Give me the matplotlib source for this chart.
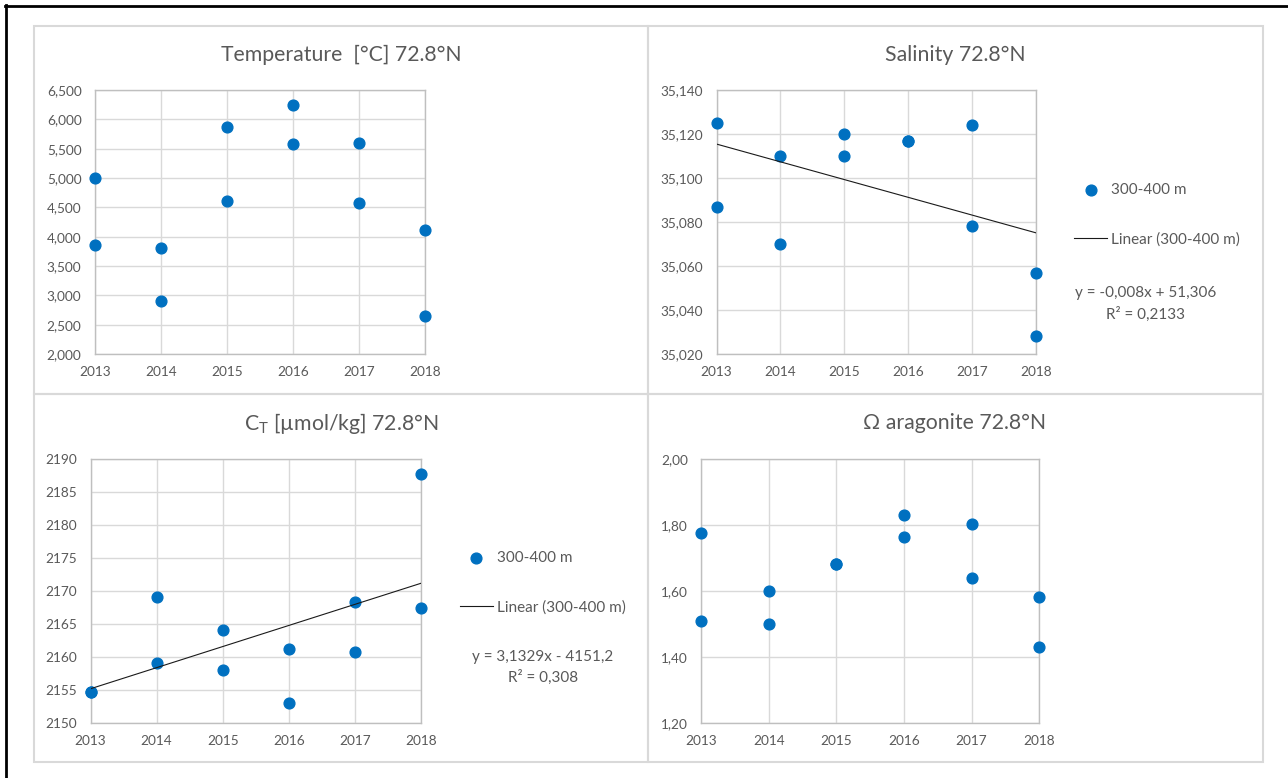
"""
Four-panel scatter of 300-400 m hydrography at 72.8°N, 2013-2018.
"""
import matplotlib
matplotlib.use('Agg')
import matplotlib.pyplot as plt
import numpy as np
from matplotlib.lines import Line2D
from matplotlib.patches import Rectangle

plt.rcParams['font.family'] = ['Lato', 'DejaVu Sans']
plt.rcParams['mathtext.fontset'] = 'custom'
plt.rcParams['mathtext.rm'] = 'Lato'

# --- data (two casts per year) ---
years = [2013, 2013, 2014, 2014, 2015, 2015, 2016, 2016, 2017, 2017, 2018, 2018]

temp = [5.00, 3.85, 3.80, 2.90, 5.87, 4.61, 6.25, 5.58, 5.60, 4.58, 4.12, 2.65]
salinity = [35.125, 35.087, 35.110, 35.070, 35.120, 35.110, 35.117, 35.117,
            35.124, 35.078, 35.057, 35.028]
ct = [2154.7, 2154.7, 2169.0, 2159.0, 2164.0, 2158.0, 2161.2, 2153.0,
      2168.3, 2160.8, 2187.7, 2167.4]
omega = [1.775, 1.510, 1.600, 1.500, 1.680, 1.680, 1.830, 1.762, 1.802, 1.638,
         1.582, 1.430]

year_ticks = [2013, 2014, 2015, 2016, 2017, 2018]
temp_ticks = np.arange(2.0, 6.51, 0.5)
sal_ticks = np.arange(35.02, 35.1401, 0.02)
ct_ticks = np.arange(2150, 2191, 5)
omega_ticks = np.arange(1.2, 2.01, 0.2)

sal_eq = ['y = -0,008x + 51,306', 'R² = 0,2133']
ct_eq = ['y = 3,1329x - 4151,2', 'R² = 0,308']
series_label = '300-400 m'
trend_label = 'Linear (300-400 m)'

# --- styling ---
W, H = 1288, 778
BLUE = '#0070C0'
TEXT = '#595959'
GRID = '#D9D9D9'
SPINE = '#BFBFBF'


def fx(px):
    return px / W


def fy(py):
    return 1 - py / H


def box(left, right, top, bottom):
    return [fx(left), fy(bottom), fx(right) - fx(left), fy(top) - fy(bottom)]


def comma(fmt):
    return lambda v: format(v, fmt).replace('.', ',')


def style_axes(ax, ylim, yticks, ylab):
    ax.set_xlim(2013, 2018)
    ax.set_ylim(*ylim)
    ax.set_xticks(year_ticks)
    ax.set_xticklabels([str(y) for y in year_ticks])
    ax.set_yticks(yticks)
    ax.set_yticklabels([ylab(v) for v in yticks])
    ax.grid(True, color=GRID, linewidth=1)
    ax.set_axisbelow(True)
    for s in ax.spines.values():
        s.set_color(SPINE)
        s.set_linewidth(1)
    ax.tick_params(length=0, labelsize=9.8, labelcolor=TEXT)
    ax.tick_params(axis='y', pad=9.5)
    ax.tick_params(axis='x', pad=9)


fig = plt.figure(figsize=(W / 100, H / 100), dpi=100)

# outer frame (top and left only) and panel borders
fig.add_artist(Line2D([fx(5), 1], [fy(5.5), fy(5.5)], color='black', lw=2))
fig.add_artist(Line2D([fx(5.5), fx(5.5)], [fy(5), 0], color='black', lw=2))
for l, r, t, b in [(33.5, 648, 26, 394), (648, 1263, 26, 394),
                   (33.5, 648, 394, 761.5), (648, 1263, 394, 761.5)]:
    fig.add_artist(Rectangle((fx(l), fy(b)), fx(r) - fx(l), fy(t) - fy(b),
                             transform=fig.transFigure, fill=False,
                             edgecolor='#D9D9D9', lw=1.5))

ax1 = fig.add_axes(box(94.7, 425, 90, 354))
ax2 = fig.add_axes(box(716.5, 1036, 90, 354))
ax3 = fig.add_axes(box(90.5, 421, 459, 722.7))
ax4 = fig.add_axes(box(701.2, 1039.2, 459, 722.7))

style_axes(ax1, (2.0, 6.5), temp_ticks, comma('.3f'))
style_axes(ax2, (35.02, 35.14), sal_ticks, comma('.3f'))
style_axes(ax3, (2150, 2190), ct_ticks, lambda v: f'{v:.0f}')
style_axes(ax4, (1.2, 2.0), omega_ticks, comma('.2f'))

ax1.scatter(years, temp, s=60, color=BLUE, zorder=3, clip_on=False)
sc2 = ax2.scatter(years, salinity, s=60, color=BLUE, zorder=3, clip_on=False,
                  label=series_label)
sc3 = ax3.scatter(years, ct, s=60, color=BLUE, zorder=3, clip_on=False,
                  label=series_label)
ax4.scatter(years, omega, s=60, color=BLUE, zorder=3, clip_on=False)

# linear trends
xx = np.array([2013, 2018])
k, m = np.polyfit(years, salinity, 1)
tr2, = ax2.plot(xx, k * xx + m, color='#1a1a1a', lw=0.8, zorder=4, label=trend_label)
k, m = np.polyfit(years, ct, 1)
tr3, = ax3.plot(xx, k * xx + m, color='#1a1a1a', lw=0.8, zorder=4, label=trend_label)

# titles
title_kw = dict(ha='center', va='center', fontsize=15.3, color=TEXT)
fig.text(fx(341), fy(55), 'Temperature  [°C] 72.8°N', **title_kw)
fig.text(fx(955.5), fy(55), 'Salinity 72.8°N', **title_kw)
fig.text(fx(341), fy(423), 'C$_{\\mathrm{T}}$ [µmol/kg] 72.8°N', **title_kw)
fig.text(fx(955), fy(423), 'Ω aragonite 72.8°N', **title_kw)

# legends and equations
for ax, sc, tr, x0, yc in [(ax2, sc2, tr2, 1074, 214.5), (ax3, sc3, tr3, 459.6, 582.5)]:
    ax.legend(handles=[sc, tr], loc='center left', frameon=False,
              bbox_to_anchor=(fx(x0), fy(yc)), bbox_transform=fig.transFigure,
              fontsize=11, labelcolor=TEXT, borderpad=0, borderaxespad=0,
              handlelength=2.16, handletextpad=0.26, labelspacing=2.3,
              scatterpoints=1)

for (cx, y1, y2), lines in [((1145.6, 293, 314), sal_eq), ((543, 657, 677), ct_eq)]:
    fig.text(fx(cx), fy(y1), lines[0], ha='center', va='center', fontsize=11, color=TEXT)
    fig.text(fx(cx), fy(y2), lines[1], ha='center', va='center', fontsize=11, color=TEXT)

fig.savefig('out.png', dpi=100)
